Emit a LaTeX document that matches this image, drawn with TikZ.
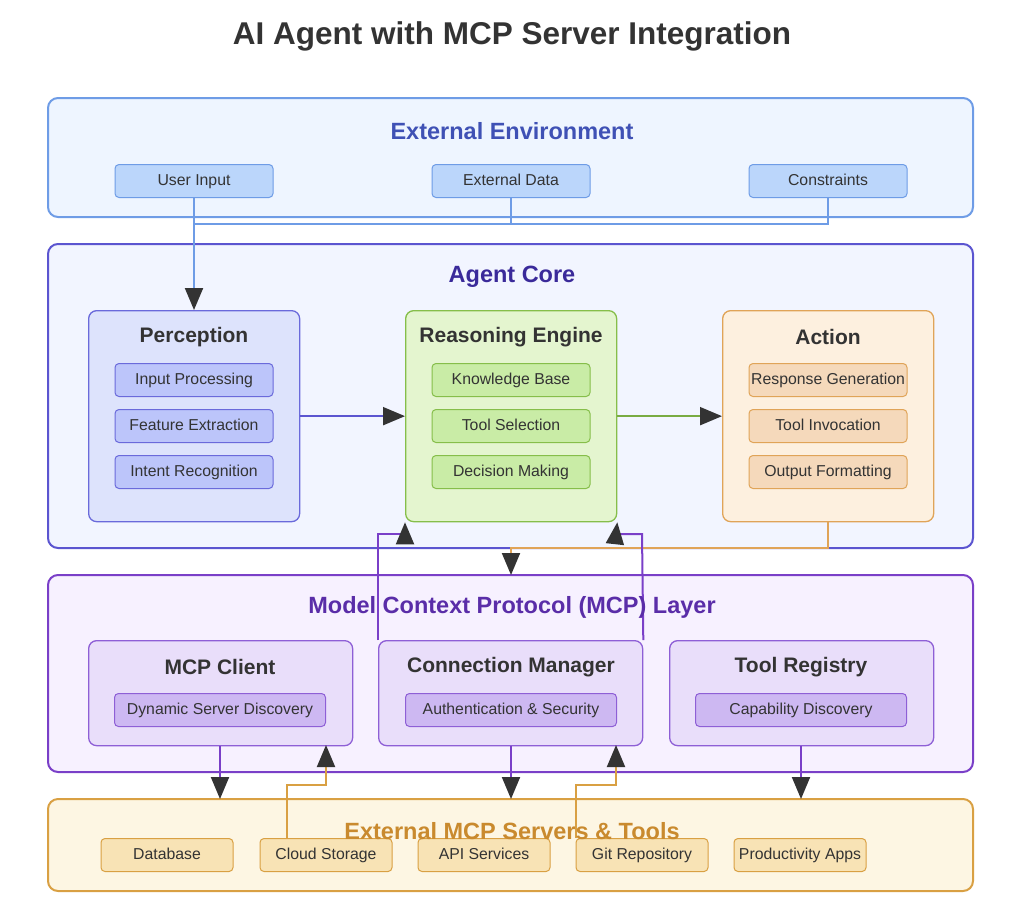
\documentclass[tikz,border=0pt]{standalone}
\usepackage{fontspec}
\setmainfont{Liberation Sans}
\usetikzlibrary{arrows.meta}
\definecolor{envF}{HTML}{EEF5FF}\definecolor{envS}{HTML}{6E9CE6}\definecolor{envT}{HTML}{3F51B5}
\definecolor{envIF}{HTML}{BBD6FB}
\definecolor{coreF}{HTML}{F2F5FF}\definecolor{coreS}{HTML}{5B55D0}\definecolor{coreT}{HTML}{3A2A9A}
\definecolor{perF}{HTML}{DDE3FC}\definecolor{perIF}{HTML}{BCC5FA}\definecolor{perS}{HTML}{6A6ADB}
\definecolor{reaF}{HTML}{E4F5CF}\definecolor{reaIF}{HTML}{C9ECA6}\definecolor{reaS}{HTML}{86BE4A}
\definecolor{actF}{HTML}{FDF0DF}\definecolor{actIF}{HTML}{F5D9BB}\definecolor{actS}{HTML}{E0A458}
\definecolor{mcpF}{HTML}{F7F1FF}\definecolor{mcpS}{HTML}{7A3FC8}\definecolor{mcpT}{HTML}{5A2DA8}
\definecolor{subF}{HTML}{E9DEFA}\definecolor{subIF}{HTML}{CDB8F2}\definecolor{subS}{HTML}{8E5FD6}
\definecolor{extF}{HTML}{FDF6E3}\definecolor{extIF}{HTML}{F8E3B5}\definecolor{extS}{HTML}{D9A043}\definecolor{extT}{HTML}{C98A2E}
\definecolor{txt}{HTML}{333333}
\tikzset{
 big/.style={draw, line width=2pt, rounded corners=10pt},
 grp/.style={draw, line width=1.3pt, rounded corners=8pt, anchor=north west},
 item/.style={draw, line width=1pt, rounded corners=4pt, minimum height=33pt, text=txt, font=\fontsize{15.8}{16}\selectfont, inner sep=1pt, text height=11.5pt, text depth=3pt},
 sec/.style={font=\bfseries\fontsize{23.5}{24}\selectfont},
 gt/.style={font=\bfseries\fontsize{21}{21}\selectfont, text=txt},
 con/.style={line width=2pt},
 arr/.style={con, -{Triangle[length=22pt,width=18pt,color=black!80]}},
}
\begin{document}
\begin{tikzpicture}[x=1pt,y=-1pt]
\useasboundingbox (0,0) rectangle (1024,911);
\node[font=\bfseries\fontsize{31.5}{32}\selectfont, text=txt] (title) at (512,36) {AI Agent with MCP Server Integration};
% environment
\draw[big, envS, fill=envF] (48,98) rectangle (973,217);
\node[sec, text=envT] (envt) at (512,131) {External Environment};
\node[item, draw=envS, fill=envIF, minimum width=158pt] (ui) at (194,181) {User Input};
\node[item, draw=envS, fill=envIF, minimum width=158pt] (ed) at (511,181) {External Data};
\node[item, draw=envS, fill=envIF, minimum width=158pt] (cs) at (828,181) {Constraints};
% core
\draw[big, coreS, fill=coreF] (48,244) rectangle (973,548);
\node[sec, text=coreT] (coret) at (512,277) {Agent Core};
\node[grp, perS, fill=perF, minimum width=211pt, minimum height=211pt] (per) at (88,310) {};
\node[grp, reaS, fill=reaF, minimum width=211pt, minimum height=211pt] (rea) at (405,310) {};
\node[grp, actS, fill=actF, minimum width=211pt, minimum height=211pt] (act) at (722,310) {};
\node[gt] (pert) at (194,337) {Perception};
\node[gt] (reat) at (511,337) {Reasoning Engine};
\node[gt] (actt) at (828,337) {Action};
\foreach \n/\t/\y in {p1/Input Processing/380, p2/Feature Extraction/426, p3/Intent Recognition/472}
  \node[item, draw=perS, fill=perIF, minimum width=158pt] (\n) at (194,\y) {\t};
\foreach \n/\t/\y in {r1/Knowledge Base/380, r2/Tool Selection/426, r3/Decision Making/472}
  \node[item, draw=reaS, fill=reaIF, minimum width=158pt] (\n) at (511,\y) {\t};
\foreach \n/\t/\y in {a1/Response Generation/380, a2/Tool Invocation/426, a3/Output Formatting/472}
  \node[item, draw=actS, fill=actIF, minimum width=158pt] (\n) at (828,\y) {\t};
% MCP
\draw[big, mcpS, fill=mcpF] (48,575) rectangle (973,772);
\node[grp, subS, fill=subF, minimum width=264pt, minimum height=105pt] (cli) at (88,640) {};
\node[grp, subS, fill=subF, minimum width=264pt, minimum height=105pt] (con) at (378,640) {};
\node[grp, subS, fill=subF, minimum width=264pt, minimum height=105pt] (reg) at (669,640) {};
\node[gt] (clit) at (220,667) {MCP Client};
\node[gt] (cont) at (511,667) {Connection Manager};
\node[gt] (regt) at (801,667) {Tool Registry};
\node[item, draw=subS, fill=subIF, minimum width=211pt] (m1) at (220,710) {Dynamic Server Discovery};
\node[item, draw=subS, fill=subIF, minimum width=211pt] (m2) at (511,710) {Authentication \& Security};
\node[item, draw=subS, fill=subIF, minimum width=211pt] (m3) at (801,710) {Capability Discovery};
% external
\draw[big, extS, fill=extF] (48,799) rectangle (973,891);
\coordinate (extTop) at (0,799);
\foreach \n/\t/\x in {e1/Database/167, e2/Cloud Storage/326, e3/API Services/484, e4/Git Repository/642, e5/Productivity Apps/800}
  \node[item, draw=extS, fill=extIF, minimum width=132pt] (\n) at (\x,855) {\t};
% connectors
\draw[con, envS] (ed.south) |- (194,224);
\draw[con, envS] (cs.south) |- (194,224);
\draw[arr, envS] (ui.south) -- (per.north -| ui.south);
\draw[arr, coreS] (per.east) -- (rea.west);
\draw[arr, reaS!90!black] (rea.east) -- (act.west);
\draw[arr, actS] (act.south) |- (511,548) -- (511,575);
\draw[arr, mcpS] (con.north west) -- (378,534) -- (405,534) -- (rea.south west);
\draw[arr, mcpS] (con.north east) -- (642,534) -- (616,534) -- (rea.south east);
\draw[arr, mcpS] (m1 |- cli.south) -- (m1 |- extTop);
\draw[arr, mcpS] (m2 |- con.south) -- (m2 |- extTop);
\draw[arr, mcpS] (m3 |- reg.south) -- (m3 |- extTop);
\draw[arr, extS] (287,838) -- (287,785) -- (326,785) -- (326,745);
\draw[arr, extS] (576,838) -- (576,785) -- (616,785) -- (616,745);
\node[sec, text=extT] (extt) at (512,831) {External MCP Servers \& Tools};
\node[sec, text=mcpT] (mcpt) at (512,607) {Model Context Protocol (MCP) Layer};
\end{tikzpicture}
\end{document}
